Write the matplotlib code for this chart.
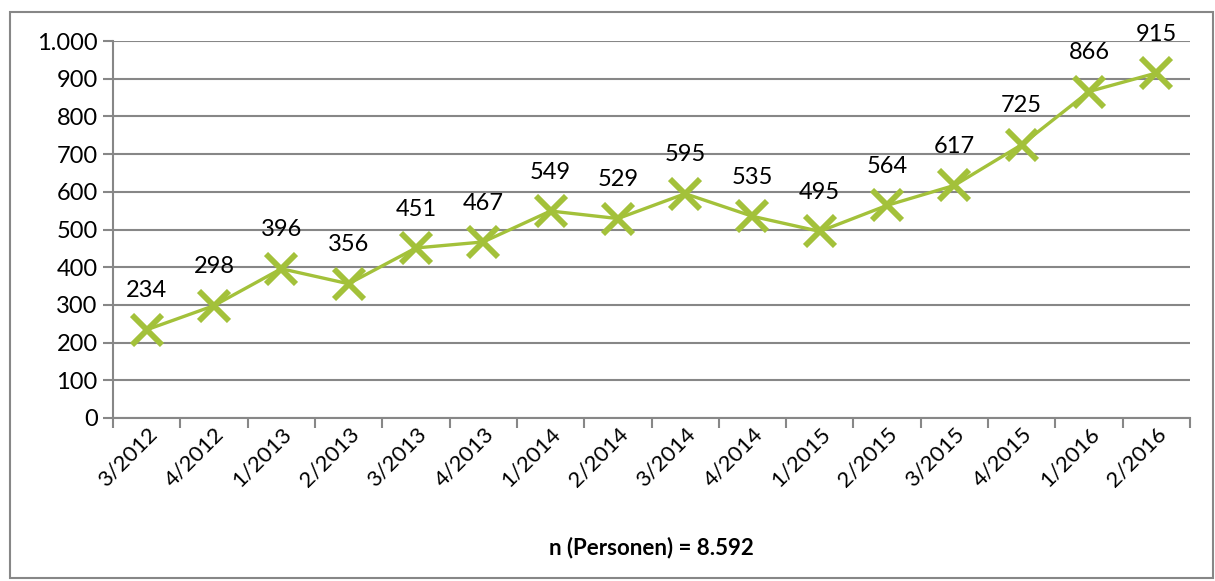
import matplotlib
matplotlib.use("Agg")
import matplotlib.pyplot as plt
from matplotlib.patches import Rectangle

# Quarterly counts
quarters = ["3/2012", "4/2012", "1/2013", "2/2013", "3/2013", "4/2013",
            "1/2014", "2/2014", "3/2014", "4/2014", "1/2015", "2/2015",
            "3/2015", "4/2015", "1/2016", "2/2016"]
counts = [234, 298, 396, 356, 451, 467, 549, 529, 595, 535, 495, 564,
          617, 725, 866, 915]
y_ticks = [0, 100, 200, 300, 400, 500, 600, 700, 800, 900, 1000]
y_tick_labels = ["0", "100", "200", "300", "400", "500", "600", "700",
                 "800", "900", "1.000"]
footer = "n (Personen) = 8.592"

plt.rcParams["font.family"] = ["Lato", "DejaVu Sans"]
green = "#A3C13A"
grey = "#878787"

fig = plt.figure(figsize=(12.15, 5.81), dpi=100)
ax = fig.add_axes([113 / 1215, 1 - 418 / 581, (1190 - 113) / 1215, (418 - 41) / 581])

x = list(range(len(quarters)))
ax.plot(x, counts, color=green, lw=2.4, marker="x", markersize=21,
        markeredgewidth=4.2, zorder=3)
for xi, v in zip(x, counts):
    ax.annotate(str(v), (xi, v), xytext=(0, 28), textcoords="offset points",
                ha="center", va="center", fontsize=17)

ax.set_xlim(-0.5, len(quarters) - 0.5)
ax.set_ylim(0, 1000)
ax.set_yticks(y_ticks)
ax.set_yticklabels(y_tick_labels, fontsize=17)
ax.set_xticks(x)
ax.set_xticklabels(quarters, rotation=45, ha="right", rotation_mode="anchor",
                   fontsize=16)
ax.set_xticks([i - 0.5 for i in range(len(quarters) + 1)], minor=True)
ax.tick_params(axis="x", which="major", length=0, pad=4)
ax.tick_params(axis="x", which="minor", length=7, width=1.5, color=grey)
ax.tick_params(axis="y", length=7, width=1.5, color=grey, pad=4)
ax.grid(axis="y", color=grey, lw=1.5)
ax.set_axisbelow(True)
for side in ("top", "right"):
    ax.spines[side].set_visible(False)
for side in ("left", "bottom"):
    ax.spines[side].set_color(grey)
    ax.spines[side].set_linewidth(1.5)

fig.text(651 / 1215, 1 - 548 / 581, footer, ha="center", va="center",
         fontsize=16, fontweight="bold")

# outer chart frame
fig.patches.append(Rectangle((10 / 1215, 3 / 581), 1203 / 1215, 566 / 581,
                             transform=fig.transFigure, fill=False,
                             edgecolor=grey, lw=1.5))

fig.savefig("out.png", dpi=100)
